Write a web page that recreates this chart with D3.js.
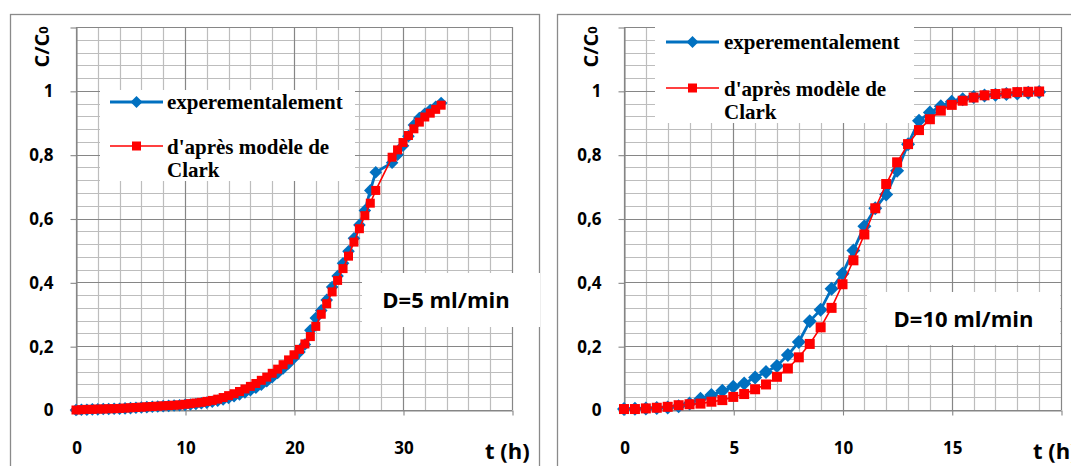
<!DOCTYPE html>
<html><head><meta charset="utf-8">
<script src="https://cdn.jsdelivr.net/npm/d3@7/dist/d3.min.js"></script>
<style>body{margin:0;background:#fff}svg{display:block}</style>
</head><body><svg id="c" width="1071" height="466"></svg>
<script>
// ---------- data ----------
const legendExp = "experementalement";
const legendClarkLines = ["d'après modèle de", "Clark"];
const yLabel = "C/C";
const yLabelSub = "0";
const xLabel = "t (h)";
const yTickValues = [0, 0.2, 0.4, 0.6, 0.8, 1, 1.2];
const yTickLabels = ["0", "0,2", "0,4", "0,6", "0,8", "1", ""];
const leftXTickValues = [0, 10, 20, 30, 40];
const leftXTickLabels = ["0", "10", "20", "30", ""];
const rightXTickValues = [0, 5, 10, 15, 20];
const rightXTickLabels = ["0", "5", "10", "15", ""];
const leftTitle = "D=5 ml/min";
const rightTitle = "D=10 ml/min";

const leftTime = [0,0.5,1,1.5,2,2.5,3,3.5,4,4.5,5,5.5,6,6.5,7,7.5,8,8.5,9,9.5,10,10.5,11,11.5,12,12.5,13,13.5,14,14.5,15,15.5,16,16.5,17,17.5,18,18.5,19,19.5,20,20.5,21,21.5,22,22.5,23,23.5,24,24.5,25,25.5,26,26.5,27,27.5,29,29.5,30,30.5,31,31.5,32,32.5,33,33.5];
const leftExp = [0,0.001,0.001,0.002,0.002,0.003,0.003,0.004,0.004,0.005,0.006,0.007,0.008,0.009,0.010,0.011,0.012,0.013,0.014,0.015,0.016,0.017,0.019,0.021,0.023,0.026,0.029,0.033,0.038,0.043,0.049,0.055,0.062,0.070,0.079,0.090,0.103,0.116,0.130,0.146,0.163,0.182,0.205,0.250,0.288,0.312,0.345,0.385,0.420,0.460,0.497,0.538,0.580,0.625,0.688,0.745,0.775,0.800,0.828,0.858,0.893,0.915,0.928,0.940,0.950,0.962];
const leftClark = [0,0.001,0.002,0.002,0.003,0.003,0.004,0.004,0.005,0.006,0.007,0.008,0.009,0.010,0.011,0.012,0.013,0.014,0.015,0.016,0.018,0.020,0.022,0.024,0.027,0.030,0.034,0.039,0.045,0.051,0.058,0.066,0.074,0.083,0.093,0.103,0.115,0.128,0.142,0.157,0.173,0.190,0.207,0.230,0.262,0.300,0.333,0.370,0.406,0.443,0.482,0.526,0.568,0.609,0.648,0.688,0.792,0.815,0.838,0.860,0.881,0.902,0.918,0.930,0.942,0.955];

const rightTime = [0,0.5,1,1.5,2,2.5,3,3.5,4,4.5,5,5.5,6,6.5,7,7.5,8,8.5,9,9.5,10,10.5,11,11.5,12,12.5,13,13.5,14,14.5,15,15.5,16,16.5,17,17.5,18,18.5,19];
const rightExp = [0.003,0.004,0.005,0.006,0.008,0.012,0.020,0.035,0.047,0.060,0.073,0.083,0.102,0.119,0.138,0.172,0.213,0.278,0.314,0.380,0.427,0.500,0.576,0.632,0.675,0.750,0.833,0.906,0.932,0.952,0.966,0.974,0.981,0.985,0.988,0.990,0.992,0.994,0.996];
const rightClark = [0.003,0.003,0.005,0.007,0.010,0.015,0.018,0.020,0.026,0.031,0.041,0.050,0.065,0.080,0.104,0.130,0.165,0.207,0.259,0.320,0.394,0.469,0.550,0.632,0.708,0.776,0.833,0.877,0.911,0.938,0.956,0.969,0.979,0.986,0.990,0.992,0.996,0.997,0.998];

// ---------- drawing ----------
const BLUE = "#0070C0", RED = "#FF0000";
const MAJOR = "#868686", MINOR = "#bdbdbd", FRAME = "#8a8a8a";
const SANS = "'Open Sans', sans-serif", SERIF = "'Liberation Serif', 'Times New Roman', serif";
const svg = d3.select("#c");
svg.append("rect").attr("width",1071).attr("height",466).attr("fill","#fff");

function diamond(r){ return `M0,${-r}L${r},0L0,${r}L${-r},0Z`; }

function drawChart(cfg) {
  const g = svg.append("g");
  g.append("rect").attr("x",cfg.frame[0]+0.5).attr("y",cfg.frame[1]+0.5)
    .attr("width",cfg.frame[2]).attr("height",600)
    .attr("fill","#fff").attr("stroke",FRAME).attr("stroke-width",1.3);

  const x = d3.scaleLinear().domain([0,cfg.xMax]).range([cfg.x0,cfg.x1]);
  const y = d3.scaleLinear().domain([0,1.2]).range([410,27]);

  const grid = g.append("g");
  const vMinor = d3.range(0, cfg.xMax+1e-9, cfg.xMinor);
  const hMinor = d3.range(0, 1.2+1e-9, 0.04);
  grid.selectAll(".vm").data(vMinor).join("line")
    .attr("x1",d=>Math.round(x(d))+0.5).attr("x2",d=>Math.round(x(d))+0.5)
    .attr("y1",y(1.2)).attr("y2",y(0)).attr("stroke",MINOR).attr("stroke-width",1.2);
  grid.selectAll(".hm").data(hMinor).join("line")
    .attr("y1",d=>Math.round(y(d))+0.5).attr("y2",d=>Math.round(y(d))+0.5)
    .attr("x1",x(0)).attr("x2",x(cfg.xMax)).attr("stroke",MINOR).attr("stroke-width",1.2);
  grid.selectAll(".vM").data(cfg.xTicks).join("line")
    .attr("x1",d=>Math.round(x(d))+0.5).attr("x2",d=>Math.round(x(d))+0.5)
    .attr("y1",y(1.2)).attr("y2",y(0)).attr("stroke",MAJOR).attr("stroke-width",1.1);
  grid.selectAll(".hM").data(yTickValues).join("line")
    .attr("y1",d=>Math.round(y(d))+0.5).attr("y2",d=>Math.round(y(d))+0.5)
    .attr("x1",x(0)).attr("x2",x(cfg.xMax)).attr("stroke",MAJOR).attr("stroke-width",1.1);

  // axes
  const ya = g.append("g").attr("transform",`translate(${Math.round(x(0))+0.5},0.5)`)
    .call(d3.axisLeft(y).tickValues(yTickValues).tickSize(6).tickSizeOuter(0).tickPadding(17)
      .tickFormat((d,i)=>yTickLabels[i]));
  const xa = g.append("g").attr("transform",`translate(0.5,${Math.round(y(0))+0.5})`)
    .call(d3.axisBottom(x).tickValues(cfg.xTicks).tickSize(5).tickSizeOuter(0).tickPadding(26)
      .tickFormat((d,i)=>cfg.xLabels[i]));
  [ya,xa].forEach(a=>{
    a.selectAll("path,line").attr("stroke",MAJOR).attr("stroke-width",1.1);
    a.selectAll("text").attr("font-family",SANS).attr("font-weight",700)
      .attr("font-size",17).attr("fill","#000");
  });

  // axis titles
  const yl = g.append("text").attr("transform",`translate(${cfg.yTitleX},47) rotate(-90)`)
    .attr("text-anchor","middle").attr("font-family",SANS).attr("font-weight",700)
    .attr("font-size",20).attr("fill","#000");
  yl.append("tspan").text(yLabel);
  yl.append("tspan").attr("font-size",13).attr("dy",-1).text(yLabelSub);
  g.append("text").attr("x",cfg.xTitleX).attr("y",459).attr("font-family",SANS)
    .attr("font-weight",700).attr("font-size",22).attr("fill","#000").text(xLabel);

  // legend box
  const L = cfg.legend;
  g.append("rect").attr("x",L.box[0]).attr("y",L.box[1]).attr("width",L.box[2]).attr("height",L.box[3]).attr("fill","#fff");
  g.append("line").attr("x1",L.lx).attr("x2",L.lx+53).attr("y1",L.y1).attr("y2",L.y1)
    .attr("stroke",BLUE).attr("stroke-width",2.8);
  g.append("path").attr("d",diamond(6)).attr("fill",BLUE).attr("transform",`translate(${L.lx+26.5},${L.y1})`);
  g.append("text").attr("x",L.tx).attr("y",L.y1+7).attr("font-family",SERIF).attr("font-weight",700)
    .attr("font-size",21).attr("fill","#000").text(legendExp);
  g.append("line").attr("x1",L.lx).attr("x2",L.lx+53).attr("y1",L.y2).attr("y2",L.y2)
    .attr("stroke",RED).attr("stroke-width",1.6);
  g.append("rect").attr("x",L.lx+26.5-4.5).attr("y",L.y2-4.5).attr("width",9).attr("height",9).attr("fill",RED);
  legendClarkLines.forEach((t,i)=>{
    g.append("text").attr("x",L.tx).attr("y",L.y2+8+i*23).attr("font-family",SERIF).attr("font-weight",700)
      .attr("font-size",21).attr("fill","#000").text(t);
  });

  // annotation box
  const A = cfg.note;
  g.append("rect").attr("x",A.box[0]).attr("y",A.box[1]).attr("width",A.box[2]).attr("height",A.box[3]).attr("fill","#fff");
  g.append("text").attr("x",A.box[0]+A.box[2]/2+A.dx).attr("y",A.box[1]+A.box[3]/2+8)
    .attr("text-anchor","middle").attr("font-family",SANS).attr("font-weight",700)
    .attr("font-size",22).attr("fill","#000").text(cfg.title);

  // series
  const line = d3.line().x(d=>x(d[0])).y(d=>y(d[1]));
  const exp = cfg.t.map((t,i)=>[t,cfg.exp[i]]);
  const cl = cfg.t.map((t,i)=>[t,cfg.clark[i]]);
  g.append("path").datum(exp).attr("d",line).attr("fill","none").attr("stroke",BLUE).attr("stroke-width",2.8);
  g.selectAll(".dm").data(exp).join("path").attr("d",diamond(cfg.dr)).attr("fill",BLUE)
    .attr("transform",d=>`translate(${x(d[0])},${y(d[1])})`);
  g.append("path").datum(cl).attr("d",line).attr("fill","none").attr("stroke",RED).attr("stroke-width",1.6);
  g.selectAll(".sq").data(cl).join("rect").attr("fill",RED)
    .attr("x",d=>x(d[0])-cfg.sq/2).attr("y",d=>y(d[1])-cfg.sq/2).attr("width",cfg.sq).attr("height",cfg.sq);
}

drawChart({
  frame:[10,14,529], x0:76, x1:512, xMax:40, xMinor:2,
  xTicks:leftXTickValues, xLabels:leftXTickLabels,
  yTitleX:49, xTitleX:485,
  legend:{box:[100,90,255,91], lx:110, tx:167, y1:102, y2:146},
  note:{box:[362,273,178,54], dx:-5}, title:leftTitle,
  t:leftTime, exp:leftExp, clark:leftClark, dr:6.3, sq:9
});
drawChart({
  frame:[557,14,560], x0:624, x1:1061, xMax:20, xMinor:1,
  xTicks:rightXTickValues, xLabels:rightXTickLabels,
  yTitleX:598, xTitleX:1033,
  legend:{box:[655,20,259,103], lx:666, tx:724, y1:42, y2:88},
  note:{box:[867,292,193,53], dx:0}, title:rightTitle,
  t:rightTime, exp:rightExp, clark:rightClark, dr:7, sq:10
});
</script></body></html>
